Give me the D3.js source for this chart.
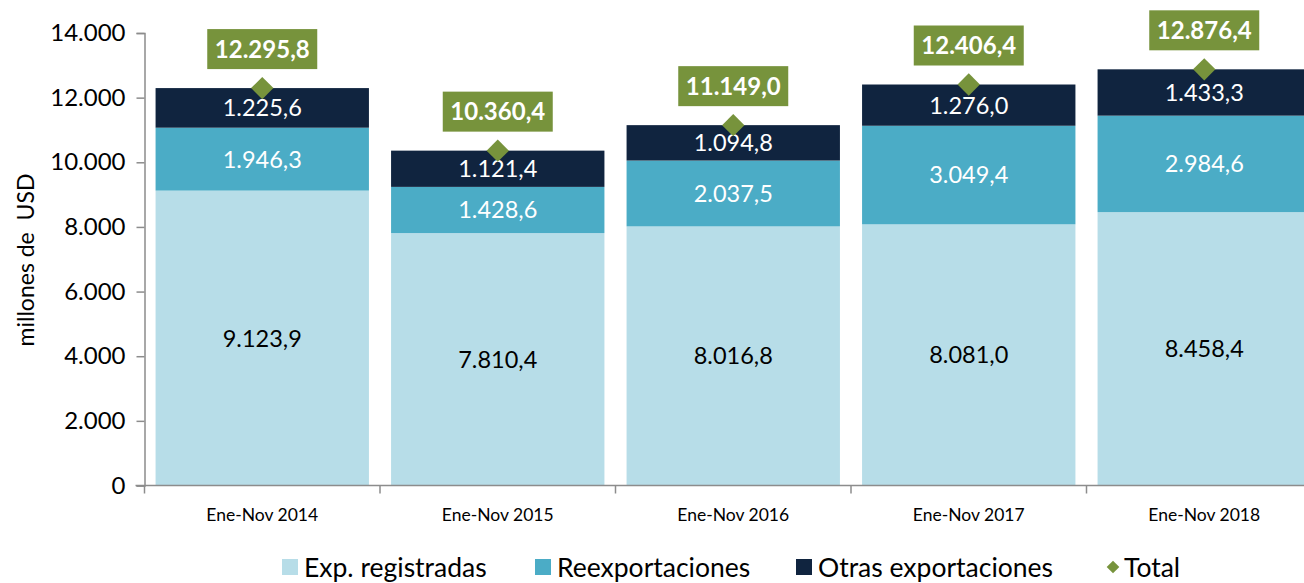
<!DOCTYPE html>
<html>
<head>
<meta charset="utf-8">
<script src="https://cdn.jsdelivr.net/npm/d3@7"></script>
<style>
  body { margin: 0; background: #fff; }
  svg { display: block; font-family: Lato, "Noto Sans", sans-serif; }
</style>
</head>
<body>
<div id="chart"></div>
<script>
const width = 1304;
const height = 583;
const margin = { top: 33, right: -18, bottom: 97, left: 144.5 };

const periods = ["Ene-Nov 2014", "Ene-Nov 2015", "Ene-Nov 2016", "Ene-Nov 2017", "Ene-Nov 2018"];
const expRegistradas = [9123.9, 7810.4, 8016.8, 8081.0, 8458.4];
const reexportaciones = [1946.3, 1428.6, 2037.5, 3049.4, 2984.6];
const otrasExportaciones = [1225.6, 1121.4, 1094.8, 1276.0, 1433.3];
const totals = [12295.8, 10360.4, 11149.0, 12406.4, 12876.4];
const yTicks = [0, 2000, 4000, 6000, 8000, 10000, 12000, 14000];

const seriesNames = ["Exp. registradas", "Reexportaciones", "Otras exportaciones"];
const seriesColors = ["#b7dde8", "#4bacc6", "#10243f"];
const labelColors = ["#000", "#fff", "#fff"];
const green = "#77933c";

// number format with "." thousands and "," decimals
const esLocale = d3.formatLocale({ decimal: ",", thousands: ".", grouping: [3], currency: ["", ""] });
const fmt1 = esLocale.format(",.1f");
const fmt0 = esLocale.format(",.0f");

const rows = periods.map((p, i) => ({
  period: p,
  "Exp. registradas": expRegistradas[i],
  "Reexportaciones": reexportaciones[i],
  "Otras exportaciones": otrasExportaciones[i],
  total: totals[i]
}));

const svg = d3.select("#chart").append("svg")
  .attr("width", width)
  .attr("height", height);

const x = d3.scaleBand()
  .domain(periods)
  .range([margin.left, width - margin.right])
  .paddingInner(0.094)
  .paddingOuter(0.047);

const y = d3.scaleLinear()
  .domain([0, 14000])
  .range([height - margin.bottom - 0.5, margin.top]);

const stacked = d3.stack().keys(seriesNames)(rows);

// bars
const layers = svg.append("g")
  .selectAll("g")
  .data(stacked)
  .join("g")
  .attr("fill", (d, i) => seriesColors[i]);

layers.selectAll("rect")
  .data(d => d)
  .join("rect")
  .attr("x", d => x(d.data.period))
  .attr("y", d => y(d[1]))
  .attr("width", x.bandwidth())
  .attr("height", d => y(d[0]) - y(d[1]));

// segment labels
stacked.forEach((layer, i) => {
  svg.append("g")
    .selectAll("text")
    .data(layer)
    .join("text")
    .attr("x", d => x(d.data.period) + x.bandwidth() / 2)
    .attr("y", d => y((d[0] + d[1]) / 2))
    .attr("dy", "0.36em")
    .attr("text-anchor", "middle")
    .attr("fill", labelColors[i])
    .style("font-size", "23.5px")
    .text(d => fmt1(d[1] - d[0]));
});

// y axis
const yAxis = svg.append("g")
  .attr("transform", `translate(${margin.left},0)`)
  .call(d3.axisLeft(y).tickValues(yTicks).tickFormat(fmt0).tickSizeOuter(0).tickSize(8).tickPadding(11));
yAxis.select(".domain").attr("stroke", "#8c8c8c").attr("stroke-width", 1.5);
yAxis.selectAll(".tick line").attr("stroke", "#8c8c8c").attr("stroke-width", 1.5);
yAxis.selectAll(".tick text")
  .attr("fill", "#000")
  .style("font-size", "24px")
  .style("font-family", "Lato, 'Noto Sans', sans-serif");

// x axis: ticks at the band boundaries
const xAxisG = svg.append("g")
  .attr("transform", `translate(0,${y(0)})`);
xAxisG.append("line")
  .attr("x1", margin.left - 9)
  .attr("x2", width)
  .attr("stroke", "#8c8c8c")
  .attr("stroke-width", 1.5);
const boundaries = periods.map(p => x(p) - x.step() * x.paddingInner() / 2).concat([x(periods[periods.length - 1]) + x.step() - x.step() * x.paddingInner() / 2]);
xAxisG.selectAll(".bt")
  .data(boundaries)
  .join("line")
  .attr("class", "bt")
  .attr("x1", d => d)
  .attr("x2", d => d)
  .attr("y1", 0)
  .attr("y2", 8)
  .attr("stroke", "#8c8c8c")
  .attr("stroke-width", 1.5);
xAxisG.selectAll(".xl")
  .data(periods)
  .join("text")
  .attr("class", "xl")
  .attr("x", d => x(d) + x.bandwidth() / 2)
  .attr("y", 35)
  .attr("text-anchor", "middle")
  .style("font-size", "17.5px")
  .text(d => d);

// y axis title
svg.append("text")
  .attr("transform", `translate(34,260) rotate(-90)`)
  .attr("text-anchor", "middle")
  .style("font-size", "23px")
  .style("white-space", "pre")
  .text("millones de  USD");

// totals: diamond marker plus label box
const diamond = d3.symbol().type(d3.symbolSquare).size(250);
svg.append("g")
  .selectAll("path")
  .data(rows)
  .join("path")
  .attr("transform", d => `translate(${x(d.period) + x.bandwidth() / 2},${y(d.total)}) rotate(45)`)
  .attr("d", diamond)
  .attr("fill", green);

const totalLabels = svg.append("g")
  .selectAll("g")
  .data(rows)
  .join("g")
  .attr("transform", d => `translate(${x(d.period) + x.bandwidth() / 2},${y(d.total) - 39})`);
totalLabels.append("rect")
  .attr("x", -55)
  .attr("y", -20)
  .attr("width", 110)
  .attr("height", 40)
  .attr("fill", green);
totalLabels.append("text")
  .attr("text-anchor", "middle")
  .attr("dy", "0.36em")
  .attr("fill", "#fff")
  .style("font-size", "24px")
  .style("font-weight", "bold")
  .text(d => fmt1(d.total));

// legend
const legendItems = [
  { name: "Exp. registradas", color: seriesColors[0], x: 282, type: "square" },
  { name: "Reexportaciones", color: seriesColors[1], x: 535, type: "square" },
  { name: "Otras exportaciones", color: seriesColors[2], x: 796, type: "square" },
  { name: "Total", color: green, x: 1106, type: "diamond" }
];
const legend = svg.append("g").attr("transform", "translate(0,567)");
const li = legend.selectAll("g")
  .data(legendItems)
  .join("g")
  .attr("transform", d => `translate(${d.x},0)`);
li.filter(d => d.type === "square").append("rect")
  .attr("x", 0)
  .attr("y", -8)
  .attr("width", 16)
  .attr("height", 16)
  .attr("fill", d => d.color);
li.filter(d => d.type === "diamond").append("path")
  .attr("transform", "translate(7,0) rotate(45)")
  .attr("d", d3.symbol().type(d3.symbolSquare).size(80))
  .attr("fill", d => d.color);
li.append("text")
  .attr("x", d => d.type === "diamond" ? 18 : 22)
  .attr("dy", "0.36em")
  .style("font-size", "26.5px")
  .text(d => d.name);
</script>
</body>
</html>
